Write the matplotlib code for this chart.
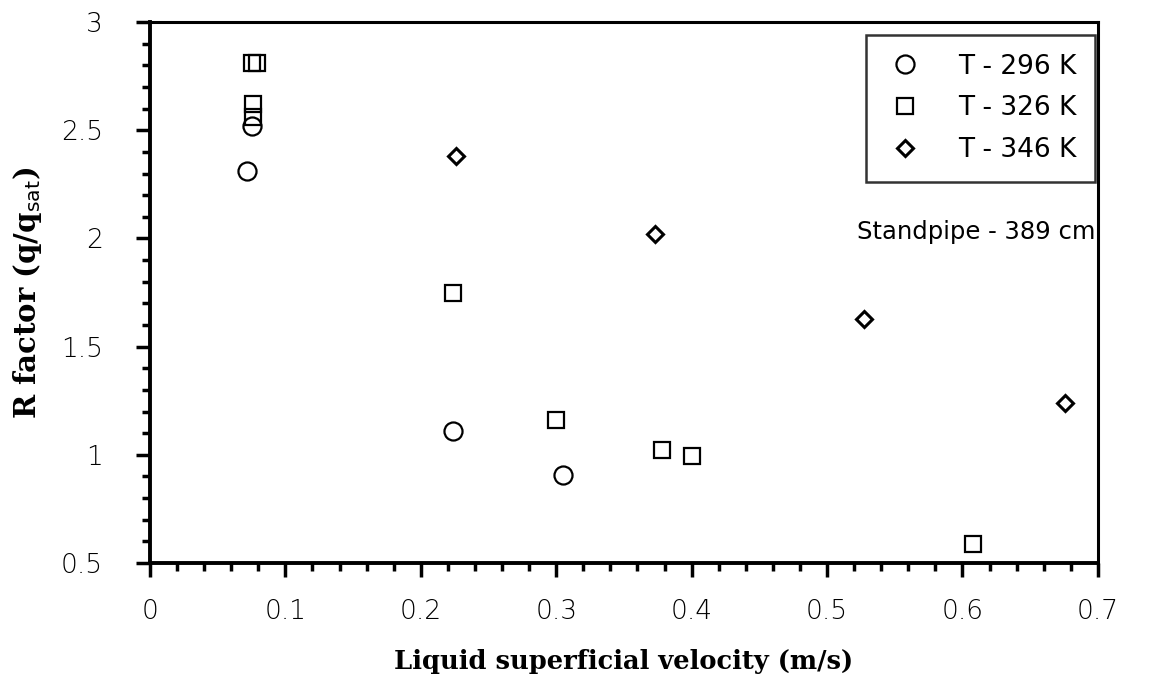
import matplotlib.pyplot as plt
from matplotlib.ticker import MultipleLocator

# data
v_296 = [0.072, 0.075, 0.224, 0.305]
r_296 = [2.31, 2.52, 1.11, 0.905]

v_326 = [0.075, 0.079, 0.076, 0.076, 0.224, 0.300, 0.378, 0.400, 0.608]
r_326 = [2.81, 2.81, 2.62, 2.56, 1.75, 1.16, 1.02, 0.995, 0.59]

v_346 = [0.226, 0.373, 0.527, 0.676]
r_346 = [2.38, 2.02, 1.63, 1.24]

labels = ['T - 296 K', 'T - 326 K', 'T - 346 K']
note = 'Standpipe - 389 cm'

sans = 'DejaVu Sans'
serif = 'DejaVu Serif'

fig = plt.figure(figsize=(11.49, 6.82), dpi=100)
ax = fig.add_axes([0.1305, 0.1745, 0.825, 0.793])

ax.plot(v_296, r_296, 'o', ms=13, mfc='none', mec='black', mew=1.6, label=labels[0])
ax.plot(v_326, r_326, 's', ms=12, mfc='none', mec='black', mew=1.6, label=labels[1])
ax.plot(v_346, r_346, 'D', ms=8, mfc='none', mec='black', mew=2.2, label=labels[2])

ax.set_xlim(0, 0.7)
ax.set_ylim(0.5, 3)
ax.xaxis.set_minor_locator(MultipleLocator(0.02))
ax.yaxis.set_minor_locator(MultipleLocator(0.1))

ax.set_xticks([0, 0.1, 0.2, 0.3, 0.4, 0.5, 0.6, 0.7])
ax.set_xticklabels(['0', '0.1', '0.2', '0.3', '0.4', '0.5', '0.6', '0.7'])
ax.set_yticks([0.5, 1, 1.5, 2, 2.5, 3])
ax.set_yticklabels(['0.5', '1', '1.5', '2', '2.5', '3'])

ax.tick_params(which='major', direction='out', length=10, width=2.5,
               labelsize=19)
ax.tick_params(axis='x', which='major', pad=16)
ax.tick_params(axis='y', which='major', pad=24)
ax.tick_params(which='minor', direction='out', length=6, width=2.5)
ax.tick_params(top=False, right=False, which='both')
for lbl in ax.get_xticklabels() + ax.get_yticklabels():
    lbl.set_fontfamily(sans)
    lbl.set_fontweight('light')

for side in ['left', 'bottom']:
    ax.spines[side].set_linewidth(2.8)
for side in ['top', 'right']:
    ax.spines[side].set_linewidth(2.2)

ax.set_xlabel('Liquid superficial velocity (m/s)', fontfamily=serif,
              fontweight='bold', fontsize=18.5, labelpad=18)
ax.set_ylabel(r'R factor (q/q$_{\mathrm{sat}}$)', fontfamily=serif,
              fontweight='bold', fontsize=21, labelpad=12)

leg = ax.legend(loc='upper right', bbox_to_anchor=(0.997, 0.976), frameon=True,
                fancybox=False, edgecolor='black',
                handletextpad=1.2, borderpad=0.7, labelspacing=0.6,
                handlelength=1.6, borderaxespad=0,
                prop={'family': sans, 'size': 19})
leg.get_frame().set_linewidth(1.8)

ax.text(0.997, 0.612, note, transform=ax.transAxes, ha='right', va='center',
        fontsize=17.5, fontfamily=sans)

fig.savefig('out.png', dpi=100)
